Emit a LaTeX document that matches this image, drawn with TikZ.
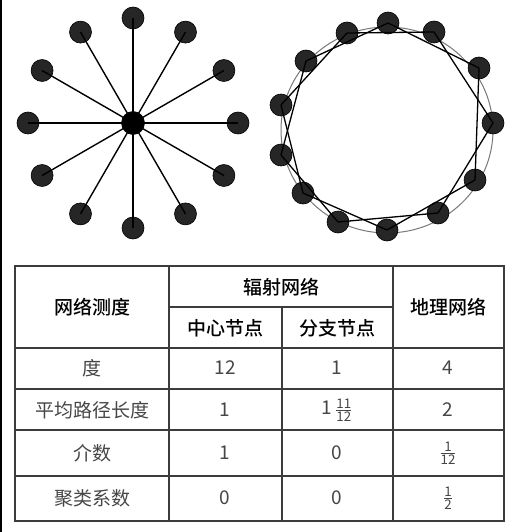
\documentclass[tikz,border=0pt]{standalone}
\usepackage{amsmath}
\usepackage{fontspec}
\setmainfont{Noto Sans CJK SC}
\newfontfamily\headfont{Noto Sans CJK SC Medium}
\usepackage{tikz}
\usetikzlibrary{positioning,calc}
\definecolor{nodeblk}{RGB}{38,38,38}
\definecolor{ringgray}{RGB}{120,120,120}
\definecolor{gridgray}{RGB}{60,60,60}
\definecolor{valgray}{RGB}{70,70,70}
\tikzset{
  dot/.style={circle, fill=nodeblk, draw=black, line width=0.6pt, minimum size=22pt, inner sep=0pt},
  hub/.style={dot, fill=black, minimum size=23pt},
  spoke/.style={black, line width=1.4pt},
  chord/.style={black, line width=1.3pt},
  grid/.style={gridgray, line width=1.4pt},
  headtxt/.style={font=\fontsize{19}{22}\selectfont\headfont, text=black},
  rowtxt/.style={font=\fontsize{19}{22}\selectfont, text=valgray},
}
\newcommand{\nfrac}[2]{$\frac{\text{#1}}{\text{#2}}$}

\begin{document}
\begin{tikzpicture}[x=1pt, y=-1pt]
  \useasboundingbox (0,0) rectangle (515,532);
  \fill[black] (0,0) rectangle (2,532);

  % radial network
  \node[hub] (c) at (133,123) {};
  \foreach \i in {1,...,12} {
    \node[dot] (s\i) at ($(c)+({90-30*(\i-1)}:105)$) {};
    \draw[spoke] (c.center) -- (s\i.center);
  }

  % geographic network
  \draw[ringgray, line width=1pt] (387,130) ellipse [x radius=106, y radius=103];
  \foreach \x/\y [count=\i] in {388/23, 434/32, 479/68, 493/123, 475/180, 438/213,
      387/230, 338/222, 303/193, 281/155, 281/105, 306/61, 347/33}
    \node[dot] (g\i) at (\x,\y) {};
  \foreach \i in {1,...,13} {
    \pgfmathtruncatemacro{\j}{mod(\i+1,13)+1}
    \draw[chord] (g\i.center) -- (g\j.center);
  }

  % table
  \draw[grid] (15,266) rectangle (504,521);
  \draw[grid] (169,266) -- (169,521);
  \draw[grid] (393,266) -- (393,521);
  \draw[grid] (282,307) -- (282,521);
  \draw[grid] (169,307) -- (393,307);
  \foreach \y in {348,389,430,476}
    \draw[grid] (15,\y) -- (504,\y);

  \node[headtxt] (hmeas) at (92,307) {网络测度};
  \node[headtxt] (hrad) at (281,287) {辐射网络};
  \node[headtxt] (hhub) at (225,328) {中心节点};
  \node[headtxt] (hbr) at (337,328) {分支节点};
  \node[headtxt] (hgeo) at (448,307) {地理网络};

  \node[rowtxt] (r1) at (92,368) {度};
  \node[rowtxt] (r2) at (92,410) {平均路径长度};
  \node[rowtxt] (r3) at (92,453) {介数};
  \node[rowtxt] (r4) at (92,498) {聚类系数};

  \node[rowtxt] (a1) at (225,368) {12};
  \node[rowtxt] (b1) at (337,368) {1};
  \node[rowtxt] (d1) at (448,368) {4};
  \node[rowtxt] (a2) at (225,410) {1};
  \node[rowtxt] (b2) at (337,410) {1\,\nfrac{11}{12}};
  \node[rowtxt] (d2) at (448,410) {2};
  \node[rowtxt] (a3) at (225,453) {1};
  \node[rowtxt] (b3) at (337,453) {0};
  \node[rowtxt] (d3) at (448,453) {\nfrac{1}{12}};
  \node[rowtxt] (a4) at (225,498) {0};
  \node[rowtxt] (b4) at (337,498) {0};
  \node[rowtxt] (d4) at (448,498) {\nfrac{1}{2}};
\end{tikzpicture}
\end{document}
